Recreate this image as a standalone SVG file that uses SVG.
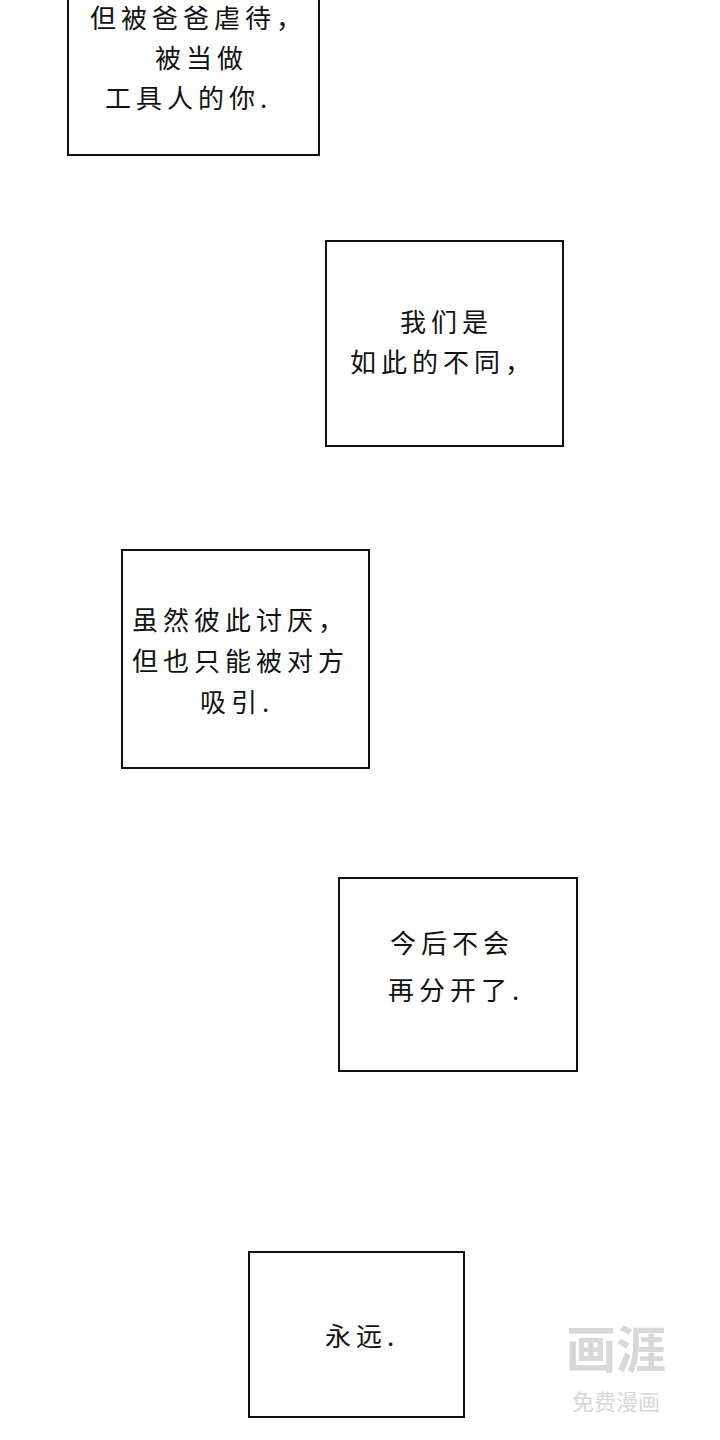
<svg xmlns="http://www.w3.org/2000/svg" width="720" height="1440" viewBox="0 0 720 1440">
<style>
.box{fill:#fff;stroke:#111;stroke-width:2}
.t{font-family:"Noto Sans CJK SC","Noto Sans",sans-serif;font-size:26px;fill:#111;letter-spacing:5px}
.wm{font-family:"Noto Sans CJK SC",sans-serif;fill:#d8d8d8}
</style>
<rect width="720" height="1440" fill="#fff"/>
<g id="box1"><rect class="box" x="68" y="-2" width="251" height="157"/>
<text class="t" x="90" y="28">但被爸爸虐待，</text>
<text class="t" x="155" y="68">被当做</text>
<text class="t" x="105" y="108">工具人的你.</text></g>
<g id="box2"><rect class="box" x="326" y="241" width="237" height="205"/>
<text class="t" x="400" y="332">我们是</text>
<text class="t" x="350" y="372">如此的不同，</text></g>
<g id="box3"><rect class="box" x="122" y="550" width="247" height="218"/>
<text class="t" x="132" y="630">虽然彼此讨厌，</text>
<text class="t" x="132" y="671">但也只能被对方</text>
<text class="t" x="200" y="712">吸引.</text></g>
<g id="box4"><rect class="box" x="339" y="878" width="238" height="193"/>
<text class="t" x="390" y="953">今后不会</text>
<text class="t" x="388" y="1000">再分开了.</text></g>
<g id="box5"><rect class="box" x="249" y="1252" width="215" height="165"/>
<text class="t" x="325" y="1346">永远.</text></g>
<g id="connectors"/>
<g id="watermark"><text class="wm" x="566" y="1368" font-size="50" font-weight="bold">画涯</text>
<text class="wm" x="572" y="1410" font-size="22">免费漫画</text></g>
</svg>
